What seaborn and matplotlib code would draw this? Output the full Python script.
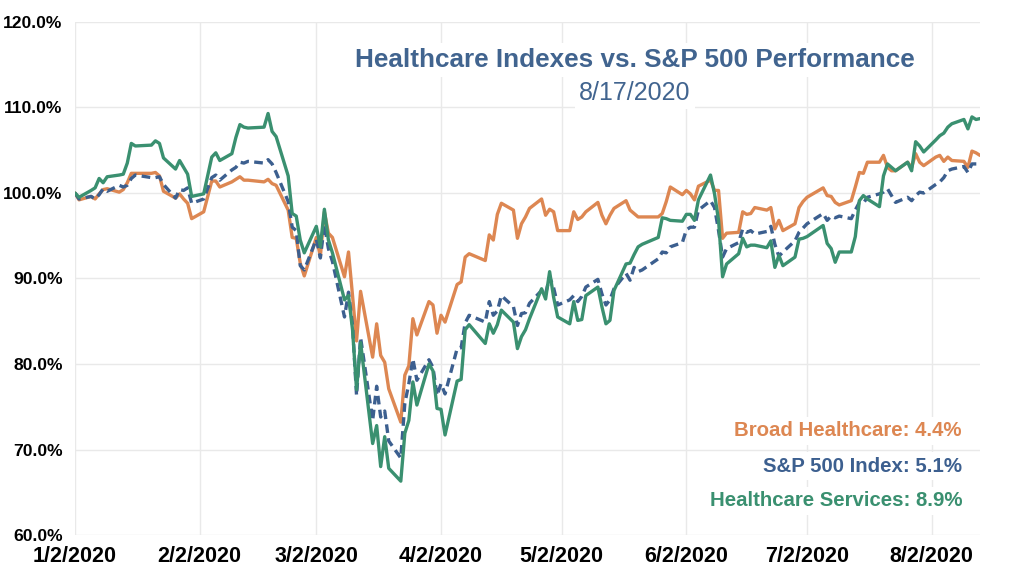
import pandas as pd
import matplotlib
matplotlib.use("Agg")
import matplotlib.pyplot as plt
import matplotlib.ticker as mticker
import seaborn as sns

# Datos (indice, 1/2/2020 = 100)
fechas = [
    "2020-01-02", "2020-01-03", "2020-01-06", "2020-01-07", "2020-01-08", "2020-01-09", "2020-01-10",
    "2020-01-13", "2020-01-14", "2020-01-15", "2020-01-16", "2020-01-17", "2020-01-21", "2020-01-22",
    "2020-01-23", "2020-01-24", "2020-01-27", "2020-01-28", "2020-01-29", "2020-01-30", "2020-01-31",
    "2020-02-03", "2020-02-05", "2020-02-06", "2020-02-07", "2020-02-10", "2020-02-11", "2020-02-12",
    "2020-02-13", "2020-02-14", "2020-02-18", "2020-02-19", "2020-02-20", "2020-02-21", "2020-02-24",
    "2020-02-25", "2020-02-26", "2020-02-27", "2020-02-28", "2020-03-02", "2020-03-03", "2020-03-04",
    "2020-03-05", "2020-03-06", "2020-03-09", "2020-03-10", "2020-03-11", "2020-03-12", "2020-03-13",
    "2020-03-16", "2020-03-17", "2020-03-18", "2020-03-19", "2020-03-20", "2020-03-23", "2020-03-24",
    "2020-03-25", "2020-03-26", "2020-03-27", "2020-03-30", "2020-03-31", "2020-04-01", "2020-04-02",
    "2020-04-03", "2020-04-06", "2020-04-07", "2020-04-08", "2020-04-09", "2020-04-13", "2020-04-14",
    "2020-04-15", "2020-04-16", "2020-04-17", "2020-04-20", "2020-04-21", "2020-04-22", "2020-04-23",
    "2020-04-24", "2020-04-27", "2020-04-28", "2020-04-29", "2020-04-30", "2020-05-01", "2020-05-04",
    "2020-05-05", "2020-05-06", "2020-05-07", "2020-05-08", "2020-05-11", "2020-05-12", "2020-05-13",
    "2020-05-14", "2020-05-15", "2020-05-18", "2020-05-19", "2020-05-20", "2020-05-21", "2020-05-22",
    "2020-05-26", "2020-05-27", "2020-05-28", "2020-05-29", "2020-06-01", "2020-06-02", "2020-06-03",
    "2020-06-04", "2020-06-05", "2020-06-08", "2020-06-09", "2020-06-10", "2020-06-11", "2020-06-12",
    "2020-06-15", "2020-06-16", "2020-06-17", "2020-06-18", "2020-06-19", "2020-06-22", "2020-06-23",
    "2020-06-24", "2020-06-25", "2020-06-26", "2020-06-29", "2020-06-30", "2020-07-01", "2020-07-02",
    "2020-07-06", "2020-07-07", "2020-07-08", "2020-07-09", "2020-07-10", "2020-07-13", "2020-07-14",
    "2020-07-15", "2020-07-16", "2020-07-17", "2020-07-20", "2020-07-21", "2020-07-22", "2020-07-23",
    "2020-07-24", "2020-07-27", "2020-07-28", "2020-07-29", "2020-07-30", "2020-07-31", "2020-08-03",
    "2020-08-04", "2020-08-05", "2020-08-06", "2020-08-07", "2020-08-10", "2020-08-11", "2020-08-12",
    "2020-08-13", "2020-08-14",
]

broad_healthcare = [
    100.0, 99.2, 99.6, 99.3, 99.9, 100.4, 100.5,
    100.1, 100.4, 101.2, 102.3, 102.3, 102.3, 102.4,
    102.0, 100.2, 99.4, 99.9, 99.3, 98.8, 97.0,
    97.8, 101.4, 101.4, 100.7, 101.3, 101.6, 101.9,
    101.5, 101.5, 101.3, 101.6, 101.1, 100.9, 98.0,
    94.8, 94.7, 91.8, 90.3, 94.8, 92.6, 97.8,
    95.3, 94.8, 90.2, 93.1, 88.0, 82.7, 88.5,
    80.8, 84.7, 81.0, 80.2, 77.1, 73.2, 78.7,
    79.8, 85.3, 83.4, 87.3, 86.9, 83.6, 85.7,
    84.9, 89.3, 89.6, 92.5, 92.9, 92.1, 95.1,
    94.5, 97.5, 98.8, 98.0, 94.7, 96.4, 97.2,
    98.2, 99.3, 97.4, 98.1, 97.8, 95.6, 95.6,
    97.8, 96.9, 97.2, 97.8, 98.9, 97.4, 96.4,
    97.4, 98.2, 99.1, 98.0, 97.6, 97.2, 97.2,
    97.2, 97.6, 99.0, 100.7, 99.8, 100.3, 99.9,
    99.2, 100.8, 101.5, 100.3, 100.3, 94.7, 95.3,
    95.4, 97.8, 97.5, 97.6, 98.3, 98.0, 98.3,
    95.8, 96.8, 95.6, 96.4, 98.3, 99.0, 99.5,
    100.6, 99.7, 99.6, 98.9, 98.6, 99.1, 100.7,
    102.4, 102.3, 103.6, 103.6, 104.4, 103.0, 102.6,
    102.6, 103.6, 103.0, 104.6, 103.6, 103.2, 104.2,
    104.4, 103.7, 104.2, 103.8, 103.7, 103.0, 104.9,
    104.7, 104.4,
]

sp500 = [
    100.0, 99.3, 99.6, 99.3, 99.8, 100.5, 100.2,
    100.9, 100.7, 100.9, 101.7, 102.1, 101.8, 101.8,
    101.9, 101.0, 99.4, 100.4, 100.3, 100.6, 98.8,
    99.3, 101.8, 102.1, 101.5, 102.7, 103.0, 103.6,
    103.5, 103.7, 103.5, 103.9, 103.4, 102.4, 99.0,
    96.0, 95.6, 91.5, 91.0, 94.6, 92.4, 96.3,
    93.5, 92.0, 85.5, 88.4, 84.5, 76.3, 83.1,
    73.4, 77.4, 73.8, 74.5, 71.0, 69.0, 75.4,
    77.7, 80.6, 78.1, 80.5, 79.6, 76.3, 77.7,
    76.5, 81.8, 81.9, 84.8, 85.7, 84.9, 87.3,
    85.7, 86.2, 88.0, 86.7, 84.5, 85.9, 86.0,
    87.1, 88.6, 88.2, 90.2, 88.9, 86.9, 87.5,
    88.0, 87.3, 87.9, 89.0, 89.9, 88.2, 86.9,
    87.5, 88.8, 90.6, 89.8, 91.3, 90.8, 91.0,
    92.3, 93.1, 93.0, 93.7, 94.2, 95.7, 96.0,
    96.0, 98.0, 99.1, 98.3, 95.6, 92.5, 93.5,
    94.2, 95.8, 95.4, 95.6, 95.2, 95.5, 96.1,
    94.0, 92.6, 93.1, 94.4, 95.4, 95.9, 96.4,
    97.6, 96.8, 97.3, 97.1, 97.3, 97.0, 98.0,
    98.9, 98.8, 99.5, 99.9, 100.1, 100.5, 99.7,
    98.9, 99.5, 99.1, 99.7, 100.1, 100.0, 101.0,
    101.3, 101.8, 102.6, 102.8, 103.1, 102.4, 103.4,
    103.4, 103.4,
]

healthcare_services = [
    100.0, 99.5, 100.3, 100.6, 101.7, 101.2, 101.9,
    102.1, 102.2, 103.5, 105.8, 105.5, 105.6, 106.1,
    105.8, 104.1, 102.8, 103.8, 103.0, 102.2, 99.6,
    99.9, 104.2, 104.7, 103.8, 104.6, 106.5, 108.0,
    107.7, 107.6, 107.7, 109.3, 107.2, 106.6, 102.0,
    97.6, 97.3, 94.5, 93.0, 96.1, 93.7, 98.1,
    94.5, 93.0, 87.5, 88.0, 84.0, 77.0, 82.5,
    70.7, 72.8, 68.0, 71.5, 67.8, 66.3, 71.9,
    73.4, 77.9, 75.2, 80.0, 79.2, 74.8, 74.7,
    71.7, 78.0, 78.2, 84.0, 84.6, 82.4, 84.7,
    83.6, 84.6, 86.3, 84.9, 81.8, 83.2, 84.0,
    85.3, 88.8, 87.6, 90.8, 87.8, 85.5, 84.7,
    87.3, 85.1, 85.2, 88.0, 89.0, 86.7, 84.7,
    85.1, 88.6, 91.7, 91.8, 92.8, 93.7, 94.0,
    94.8, 97.1, 97.0, 96.8, 96.7, 97.5, 97.5,
    96.8, 99.2, 102.1, 99.9, 96.8, 90.2, 91.7,
    92.9, 94.7, 93.7, 93.9, 93.9, 93.6, 94.4,
    91.3, 92.7, 91.5, 92.5, 94.6, 94.7, 94.9,
    96.2, 94.1, 93.5, 91.9, 93.1, 93.1, 94.9,
    99.1, 99.7, 99.3, 98.4, 102.0, 103.4, 103.0,
    102.6, 103.6, 102.6, 106.0, 105.5, 104.8, 106.2,
    106.7, 107.0, 107.7, 108.1, 108.6, 107.5, 108.9,
    108.6, 108.7,
]

series_names = ["Broad Healthcare", "S&P 500 Index", "Healthcare Services"]
series_labels = ["Broad Healthcare: 4.4%", "S&P 500 Index: 5.1%", "Healthcare Services: 8.9%"]
xtick_labels = ["1/2/2020", "2/2/2020", "3/2/2020", "4/2/2020", "5/2/2020", "6/2/2020", "7/2/2020", "8/2/2020"]
ytick_values = [60, 70, 80, 90, 100, 110, 120]

colores = {"Broad Healthcare": "#DD8752", "S&P 500 Index": "#3C5F8F", "Healthcare Services": "#3A9070"}
lineas = {"Broad Healthcare": "", "S&P 500 Index": (2.6, 1.6), "Healthcare Services": ""}

df = pd.DataFrame({
    "fecha": pd.to_datetime(fechas),
    "Broad Healthcare": broad_healthcare,
    "S&P 500 Index": sp500,
    "Healthcare Services": healthcare_services,
})
largo = df.melt(id_vars="fecha", var_name="serie", value_name="valor")

sns.set_style("white")
plt.rcParams["font.family"] = ["Liberation Sans", "DejaVu Sans"]

fig = plt.figure(figsize=(10.24, 5.73), dpi=100)
ax = fig.add_axes([75 / 1024, 38 / 573, 905 / 1024, 513 / 573])

sns.lineplot(data=largo, x="fecha", y="valor", hue="serie", style="serie",
             hue_order=series_names, style_order=series_names,
             palette=colores, dashes=lineas, linewidth=2.4, legend=False, ax=ax)

ax.set_xlim(pd.Timestamp("2020-01-02"), pd.Timestamp("2020-08-14"))
ax.set_ylim(60, 120)
ax.set_xticks(pd.to_datetime(xtick_labels))
ax.set_xticklabels(xtick_labels, fontsize=15.5, fontweight="bold")
ax.set_yticks(ytick_values)
ax.yaxis.set_major_formatter(mticker.FuncFormatter(lambda v, p: f"{v:.1f}%"))
for t in ax.get_yticklabels():
    t.set_fontsize(12.6)
    t.set_fontweight("bold")
ax.tick_params(axis="both", length=0, colors="black")
ax.tick_params(axis="y", pad=9)
ax.tick_params(axis="x", pad=8)
ax.set_xlabel("")
ax.set_ylabel("")
ax.grid(True, color="#e9e9e9", linewidth=1)
ax.set_axisbelow(True)
for s in ax.spines.values():
    s.set_visible(False)

# Titulo con fondo blanco
fig.text(635 / 1024, 1 - 60 / 573, "Healthcare Indexes vs. S&P 500 Performance", ha="center", va="center",
         fontsize=18.8, fontweight="bold", color="#41648F",
         bbox=dict(facecolor="white", edgecolor="none", pad=4))
fig.text(635 / 1024, 1 - 93 / 573, "8/17/2020", ha="center", va="center",
         fontsize=18, color="#41648F",
         bbox=dict(facecolor="white", edgecolor="none", pad=3))

# Etiquetas de las series
ys = [431, 466, 501]
for nombre, etiqueta, y in zip(series_names, series_labels, ys):
    fig.text(962 / 1024, 1 - y / 573, etiqueta, ha="right", va="center",
             fontsize=14.7, fontweight="bold", color=colores[nombre],
             bbox=dict(facecolor="white", edgecolor="none", pad=3))

plt.savefig("out.png", dpi=100)
